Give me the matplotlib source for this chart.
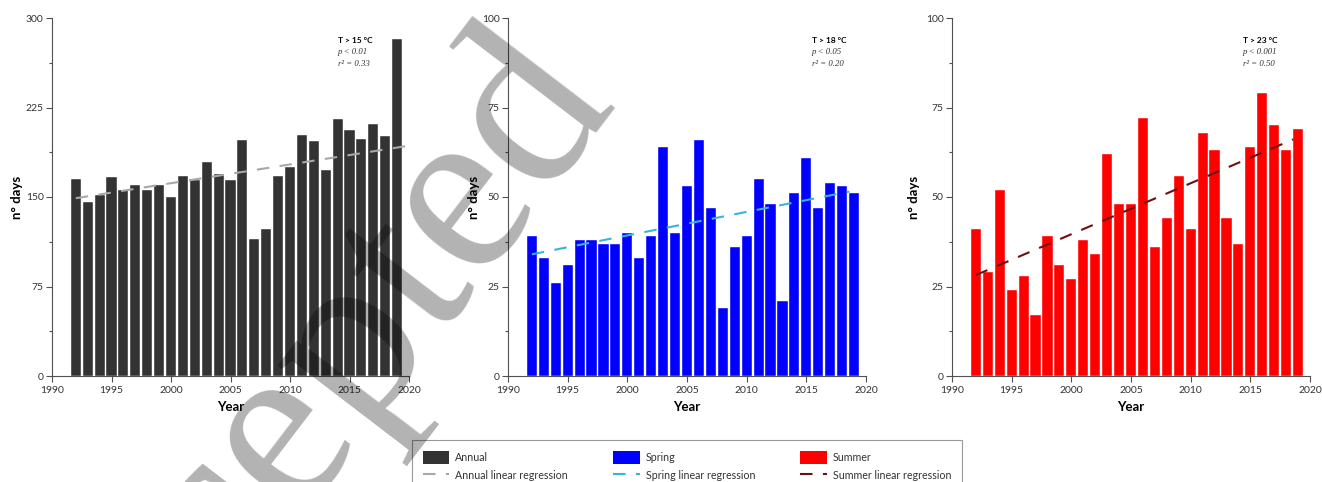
import numpy as np
import matplotlib
matplotlib.use("Agg")
import matplotlib.pyplot as plt
from matplotlib.patches import Patch
from matplotlib.lines import Line2D

plt.rcParams["font.family"] = ["Lato", "DejaVu Sans"]

YEARS = list(range(1992, 2020))

# days above threshold per year
ANNUAL = [165, 146, 152, 167, 156, 160, 156, 160, 150, 168, 164, 179, 169, 164,
          198, 115, 123, 168, 175, 202, 197, 173, 215, 206, 199, 211, 201, 282]
SPRING = [39, 33, 26, 31, 38, 38, 37, 37, 40, 33, 39, 64, 40, 53,
          66, 47, 19, 36, 39, 55, 48, 21, 51, 61, 47, 54, 53, 51]
SUMMER = [41, 29, 52, 24, 28, 17, 39, 31, 27, 38, 34, 62, 48, 48,
          72, 36, 44, 56, 41, 68, 63, 44, 37, 64, 79, 70, 63, 69]

# linear regression lines (start/end year and fitted value)
ANNUAL_TREND_X = [1992, 2020]
ANNUAL_TREND_Y = [149, 193]
SPRING_TREND_X = [1992, 2018.6]
SPRING_TREND_Y = [34, 51.5]
SUMMER_TREND_X = [1992, 2018.6]
SUMMER_TREND_Y = [28.2, 66.1]

THRESHOLDS = ["T > 15 °C", "T > 18 °C", "T > 23 °C"]
P_VALUES = ["p < 0.01", "p < 0.05", "p < 0.001"]
R2_VALUES = ["r² = 0.33", "r² = 0.20", "r² = 0.50"]
Y_MAX = [300, 100, 100]

BAR_COLORS = ["#333333", "#0000ff", "#ff0000"]
TREND_COLORS = ["#a8a8a8", "#38b4dc", "#6e1010"]
NAMES = ["Annual", "Spring", "Summer"]

TEXT_COL = "#333333"
AXIS_COL = "#505050"

W, H = 1322, 482
fig = plt.figure(figsize=(W / 100, H / 100), dpi=100)

# axes boxes in pixels: left, right, top, bottom
boxes = [(52, 409, 18, 376), (508, 866, 18, 376), (952, 1310, 18, 376)]
ylab_x = [-0.082, -0.078, -0.089]
note_x = [0.80, 0.848, 0.812]

series = [ANNUAL, SPRING, SUMMER]
trends = [(ANNUAL_TREND_X, ANNUAL_TREND_Y),
          (SPRING_TREND_X, SPRING_TREND_Y),
          (SUMMER_TREND_X, SUMMER_TREND_Y)]

for i in range(3):
    l, r, t, b = boxes[i]
    ax = fig.add_axes([l / W, 1 - b / H, (r - l) / W, (b - t) / H])

    ax.bar(YEARS, series[i], width=0.85, color=BAR_COLORS[i],
           edgecolor="white", linewidth=0.3, zorder=2)
    tx, ty = trends[i]
    ax.plot(tx, ty, color=TREND_COLORS[i], linewidth=1.5,
            dashes=(6, 5), zorder=3)

    ymax = Y_MAX[i]
    ax.set_xlim(1990, 2020)
    ax.set_ylim(0, ymax)
    ax.set_xticks(range(1990, 2021, 5))
    yt = np.linspace(0, ymax, 5)
    ax.set_yticks(yt)
    ax.set_yticklabels([str(int(v)) for v in yt])
    ax.set_yticks(np.linspace(0, ymax, 9), minor=True)

    for s in ["top", "right"]:
        ax.spines[s].set_visible(False)
    for s in ["left", "bottom"]:
        ax.spines[s].set_color(AXIS_COL)
        ax.spines[s].set_linewidth(0.8)

    ax.tick_params(which="major", direction="out", length=4, width=0.8,
                   color=AXIS_COL, labelsize=7.5, labelcolor=TEXT_COL, pad=2)
    ax.tick_params(axis="x", which="major", pad=3.5)
    ax.tick_params(which="minor", direction="out", length=2.5, width=0.8,
                   color=AXIS_COL)
    ax.tick_params(axis="x", which="minor", length=0)

    ax.set_ylabel("n° days", fontsize=9.5, fontweight="bold", color="black")
    ax.yaxis.set_label_coords(ylab_x[i], 0.5)
    ax.set_xlabel("Year", fontsize=9.5, fontweight="bold", color="black")
    ax.xaxis.set_label_coords(0.5, -0.07)

    nx = note_x[i]
    ax.text(nx, 0.936, THRESHOLDS[i], transform=ax.transAxes, fontsize=6,
            fontweight="bold", color="black", va="center", ha="left")
    ax.text(nx, 0.904, P_VALUES[i], transform=ax.transAxes, fontsize=6.3,
            fontstyle="italic", family="Liberation Serif", color=TEXT_COL,
            va="center", ha="left")
    ax.text(nx, 0.872, R2_VALUES[i], transform=ax.transAxes, fontsize=6.3,
            fontstyle="italic", family="Liberation Serif", color=TEXT_COL,
            va="center", ha="left")

handles, labels = [], []
for i in range(3):
    handles.append(Patch(facecolor=BAR_COLORS[i], edgecolor="none"))
    labels.append(NAMES[i])
    handles.append(Line2D([0], [0], color=TREND_COLORS[i], linewidth=1.5,
                          dashes=(6, 5)))
    labels.append(NAMES[i] + " linear regression")

leg = fig.legend(handles, labels, loc="upper left",
                 bbox_to_anchor=(412 / W, 1 - 440 / H), ncol=3,
                 frameon=True, fancybox=False, edgecolor="#808080",
                 fontsize=7.7, handlelength=2.5, handleheight=1.5,
                 handletextpad=0.55, columnspacing=4.2, borderpad=1.0,
                 labelspacing=0.5, borderaxespad=0)
leg.get_frame().set_linewidth(0.8)
for txt in leg.get_texts():
    txt.set_color(TEXT_COL)

# journal watermark laid over the figure
fig.text(0.256, 0.030, "Accepted", rotation=52.6, rotation_mode="anchor",
         ha="center", va="baseline", fontsize=175, family="Liberation Serif",
         color="black", alpha=0.3, zorder=10)

fig.savefig("out.png", dpi=100)
